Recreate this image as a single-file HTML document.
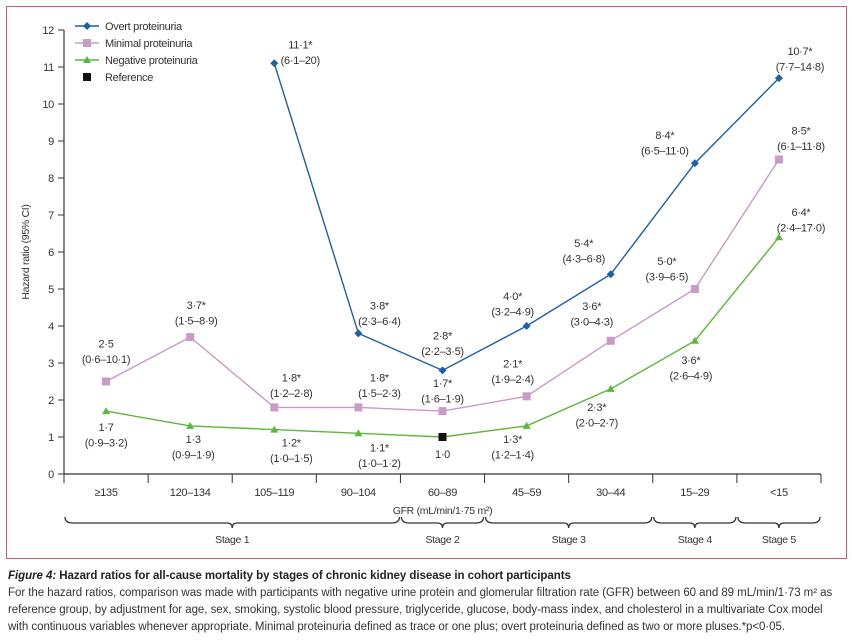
<!DOCTYPE html>
<html><head><meta charset="utf-8"><style>
body{margin:0;background:#fff;width:852px;height:643px;overflow:hidden;font-family:"Liberation Sans",sans-serif}
#frame{position:absolute;left:6px;top:6px;width:839px;height:551px;border:1px solid #d4566f}
.cap{position:absolute;left:8px;font-size:11.5px;color:#333;white-space:nowrap;letter-spacing:-0.05px}
</style></head><body>
<div id="frame"></div>
<svg id="chart" width="852" height="643" style="position:absolute;left:0;top:0"></svg>
<div class="cap" style="top:570px;font-weight:bold;color:#222"><i>Figure 4:</i> Hazard ratios for all-cause mortality by stages of chronic kidney disease in cohort participants</div>
<div class="cap" style="top:587px">For the hazard ratios, comparison was made with participants with negative urine protein and glomerular filtration rate (GFR) between 60 and 89 mL/min/1·73 m² as</div>
<div class="cap" style="top:604px">reference group, by adjustment for age, sex, smoking, systolic blood pressure, triglyceride, glucose, body-mass index, and cholesterol in a multivariate Cox model</div>
<div class="cap" style="top:621px">with continuous variables whenever appropriate. Minimal proteinuria defined as trace or one plus; overt proteinuria defined as two or more pluses.*p&lt;0·05.</div>
<script>
const categories=["≥135","120–134","105–119","90–104","60–89","45–59","30–44","15–29","<15"];
const overtValues=[null,null,11.1,3.8,2.8,4.0,5.4,8.4,10.7];
const overtLabels=[null,null,["11·1*","(6·1–20)"],["3·8*","(2·3–6·4)"],["2·8*","(2·2–3·5)"],["4·0*","(3·2–4·9)"],["5·4*","(4·3–6·8)"],["8·4*","(6·5–11·0)"],["10·7*","(7·7–14·8)"]];
const minimalValues=[2.5,3.7,1.8,1.8,1.7,2.1,3.6,5.0,8.5];
const minimalLabels=[["2·5","(0·6–10·1)"],["3·7*","(1·5–8·9)"],["1·8*","(1·2–2·8)"],["1·8*","(1·5–2·3)"],["1·7*","(1·6–1·9)"],["2·1*","(1·9–2·4)"],["3·6*","(3·0–4·3)"],["5·0*","(3·9–6·5)"],["8·5*","(6·1–11·8)"]];
const negativeValues=[1.7,1.3,1.2,1.1,1.0,1.3,2.3,3.6,6.4];
const negativeLabels=[["1·7","(0·9–3·2)"],["1·3","(0·9–1·9)"],["1·2*","(1·0–1·5)"],["1·1*","(1·0–1·2)"],["1·0",""],["1·3*","(1·2–1·4)"],["2·3*","(2·0–2·7)"],["3·6*","(2·6–4·9)"],["6·4*","(2·4–17·0)"]];
const yTicks=[0,1,2,3,4,5,6,7,8,9,10,11,12];
const stages=["Stage 1","Stage 2","Stage 3","Stage 4","Stage 5"];
const stageSpans=[[0,4],[4,5],[5,7],[7,8],[8,9]];
// label layout offsets (dx of text centre, dy of first baseline, relative to point)
const overtOff=[null,null,[26,-15],[21,-24],[0,-31],[-14,-26],[-27,-27],[-30,-24],[21,-23]];
const minOff=[[0,-34],[6,-28],[17,-26],[21,-26],[0,-24],[-14,-29],[-19,-31],[-28,-24],[22,-25]];
const negOff=[[0,20],[3,17],[17,17],[21,18],[0,21],[-14,17],[-14,22],[-4,23],[22,-21]];

const svg=document.getElementById('chart');const NS='http://www.w3.org/2000/svg';
const x0=64,x1=821,y0=474,pxu=37;
const cw=(x1-x0)/categories.length;
const X=i=>x0+cw*(i+0.5), Y=v=>y0-v*pxu;
function el(t,a,p){const e=document.createElementNS(NS,t);for(const k in a)e.setAttribute(k,a[k]);(p||svg).appendChild(e);return e;}
function txt(s,x,y,o){const e=el('text',Object.assign({x:x,y:y,'font-size':11,fill:'#333','text-anchor':'middle','letter-spacing':'-0.3','font-family':'Liberation Sans, sans-serif'},o||{}));e.textContent=s;return e;}
const ya=el('line',{x1:x0,y1:Y(12),x2:x0,y2:y0,stroke:'#333','stroke-width':1.2});

yTicks.forEach(v=>{el('line',{x1:x0-6,y1:Y(v),x2:x0,y2:Y(v),stroke:'#333'});const t=txt(String(v),x0-10,Y(v)+4,{'text-anchor':'end'});});
const yt=txt('Hazard ratio (95% CI)',0,0,{transform:`translate(29,${Y(6)}) rotate(-90)`,'font-size':10.5});

const xa=el('line',{x1:x0,y1:y0,x2:x1,y2:y0,stroke:'#333','stroke-width':1.2});

for(let i=0;i<=categories.length;i++)el('line',{x1:x0+cw*i,y1:y0,x2:x0+cw*i,y2:y0+9,stroke:'#333'});
categories.forEach((c,i)=>{const t=txt(c,X(i),y0+22);});
const xt=txt('GFR (mL/min/1·75 m²)',X(4),y0+40,{'font-size':10.5});

stageSpans.forEach((s,k)=>{const a=x0+cw*s[0]+1,b=x0+cw*s[1]-1,m=(a+b)/2,t=517;
const p=el('path',{d:`M${a},${t} Q${a},${t+6} ${a+8},${t+6} L${m-5},${t+6} Q${m},${t+6} ${m},${t+11} Q${m},${t+6} ${m+5},${t+6} L${b-8},${t+6} Q${b},${t+6} ${b},${t}`,fill:'none',stroke:'#333','stroke-width':1.3});

const l=txt(stages[k],m,t+26,{'font-size':10.5});});
function series(vals,labels,off,color,marker,name){
 const pts=vals.map((v,i)=>v==null?null:[X(i),Y(v)]).filter(p=>p);
 const pl=el('polyline',{points:pts.map(p=>p.join(',')).join(' '),fill:'none',stroke:color,'stroke-width':1.4});
 
 vals.forEach((v,i)=>{if(v==null)return;const x=X(i),y=Y(v);let m;
  if(name==='negative'&&i===4){m=el('rect',{x:x-4,y:y-4,width:8,height:8,fill:'#111'});}
  else if(marker==='diamond')m=el('path',{d:`M${x},${y-4} L${x+4},${y} L${x},${y+4} L${x-4},${y}Z`,fill:color});
  else if(marker==='square')m=el('rect',{x:x-4,y:y-4,width:8,height:8,fill:color});
  else m=el('path',{d:`M${x},${y-4} L${x+4},${y+3} L${x-4},${y+3}Z`,fill:color});
  
  const L=labels[i],o=off[i];if(L){const a=txt(L[0],x+o[0],y+o[1]);
   if(L[1]){const b=txt(L[1],x+o[0],y+o[1]+15.5);}}
 });
}
series(negativeValues,negativeLabels,negOff,'#5cb83c','tri','negative');
series(minimalValues,minimalLabels,minOff,'#c99bc6','square','minimal');
series(overtValues,overtLabels,overtOff,'#1f5fa8','diamond','overt');
const leg=[['Overt proteinuria','#1f5fa8','diamond'],['Minimal proteinuria','#c99bc6','square'],['Negative proteinuria','#5cb83c','tri'],['Reference','#111','ref']];
leg.forEach((l,k)=>{const y=26+k*17,g=el('g',{});
 const cx=87;
 if(l[2]!=='ref')el('line',{x1:75,y1:y,x2:99,y2:y,stroke:l[1],'stroke-width':1.4},g);
 if(l[2]==='diamond')el('path',{d:`M${cx},${y-4} L${cx+4},${y} L${cx},${y+4} L${cx-4},${y}Z`,fill:l[1]},g);
 else if(l[2]==='square'||l[2]==='ref')el('rect',{x:cx-4,y:y-4,width:8,height:8,fill:l[1]},g);
 else el('path',{d:`M${cx},${y-4} L${cx+4},${y+3} L${cx-4},${y+3}Z`,fill:l[1]},g);
 const t=txt(l[0],105,y+4,{'text-anchor':'start'});g.appendChild(t);});
</script>
</body></html>
